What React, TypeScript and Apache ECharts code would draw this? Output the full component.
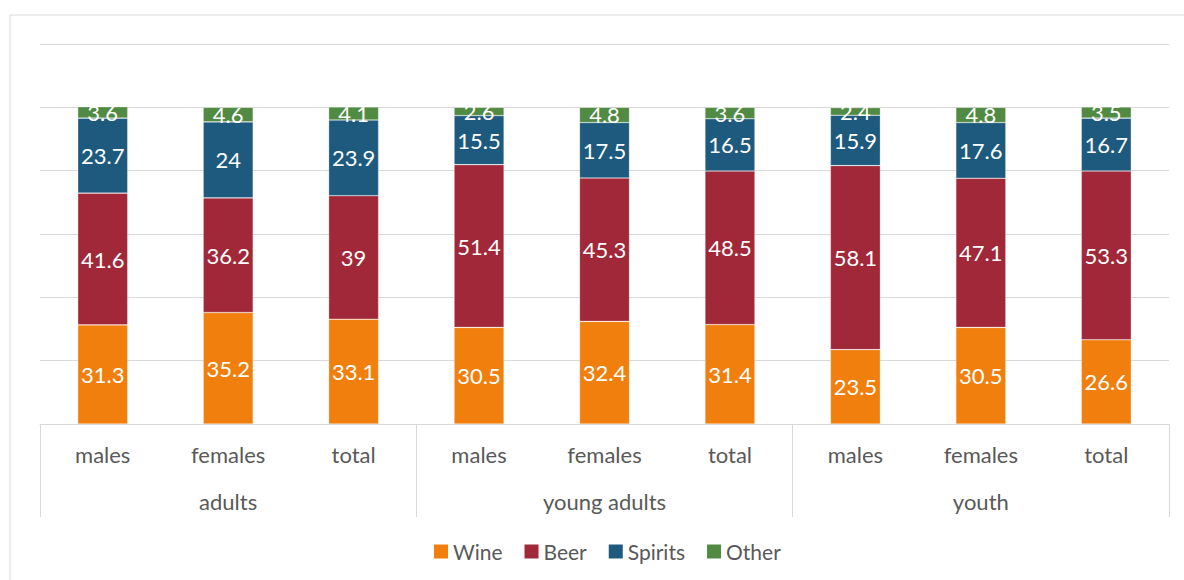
import React, { useEffect, useRef } from "react";
import * as echarts from "echarts";

const categories = [
  "males", "females", "total",
  "males", "females", "total",
  "males", "females", "total",
];
const groups = ["adults", "young adults", "youth"];
const seriesNames = ["Wine", "Beer", "Spirits", "Other"];
const wine = [31.3, 35.2, 33.1, 30.5, 32.4, 31.4, 23.5, 30.5, 26.6];
const beer = [41.6, 36.2, 39, 51.4, 45.3, 48.5, 58.1, 47.1, 53.3];
const spirits = [23.7, 24, 23.9, 15.5, 17.5, 16.5, 15.9, 17.6, 16.7];
const other = [3.6, 4.6, 4.1, 2.6, 4.8, 3.6, 2.4, 4.8, 3.5];
const colors = ["#F07F0E", "#A12839", "#1E5A7D", "#518A42"];

const FONT = "Lato, 'Open Sans', sans-serif";

export default function App() {
  const ref = useRef<HTMLDivElement>(null);
  useEffect(() => {
    if (!ref.current) return;
    const chart = echarts.init(ref.current, null, { renderer: "svg" });
    const values = [wine, beer, spirits, other];
    chart.setOption({
      animation: false,
      textStyle: { fontFamily: FONT },
      graphic: [
        {
          type: "rect",
          shape: { x: 10, y: 15, width: 1200, height: 600 },
          style: { fill: "none", stroke: "#d9d9d9", lineWidth: 1 },
          silent: true,
        },
      ],
      grid: {
        left: 40,
        right: 15,
        top: 44,
        bottom: 156,
        containLabel: false,
        outerBoundsMode: "none",
      },
      legend: {
        data: seriesNames,
        left: 429,
        top: 536,
        icon: "rect",
        itemWidth: 14,
        itemHeight: 14,
        itemGap: 22,
        itemStyle: { borderWidth: 0 },
        textStyle: { color: "#595959", fontSize: 21, fontFamily: FONT },
      },
      xAxis: [
        {
          type: "category",
          data: categories,
          position: "bottom",
          axisLine: { show: true, lineStyle: { color: "#d9d9d9", width: 1 } },
          axisTick: { show: false },
          axisLabel: {
            color: "#595959",
            fontSize: 22,
            fontFamily: FONT,
            margin: 19,
            interval: 0,
          },
        },
        {
          type: "category",
          data: groups,
          position: "bottom",
          axisLine: { show: false },
          axisTick: {
            show: true,
            length: 93,
            interval: 0,
            lineStyle: { color: "#d9d9d9", width: 1 },
          },
          axisLabel: {
            color: "#595959",
            fontSize: 22,
            fontFamily: FONT,
            margin: 66,
            interval: 0,
          },
          splitLine: { show: false },
        },
      ],
      yAxis: {
        type: "value",
        min: 0,
        max: 120,
        interval: 20,
        axisLabel: { show: false },
        axisLine: { show: false },
        axisTick: { show: false },
        splitLine: { lineStyle: { color: "#d9d9d9", width: 1 } },
      },
      series: seriesNames.map((name, i) => ({
        name,
        type: "bar",
        stack: "total",
        xAxisIndex: 0,
        barWidth: 50,
        data: values[i],
        itemStyle: {
          color: colors[i],
          borderColor: "rgba(255,255,255,0.45)",
          borderWidth: 0.6,
        },
        label: {
          show: true,
          position: "inside",
          color: "#ffffff",
          fontSize: 22,
          fontFamily: FONT,
          textBorderWidth: 0,
        },
      })),
    });
    return () => chart.dispose();
  }, []);
  return (
    <div
      ref={ref}
      style={{ position: "absolute", left: 0, top: 0, width: 1184, height: 580, background: "#fff" }}
    />
  );
}
